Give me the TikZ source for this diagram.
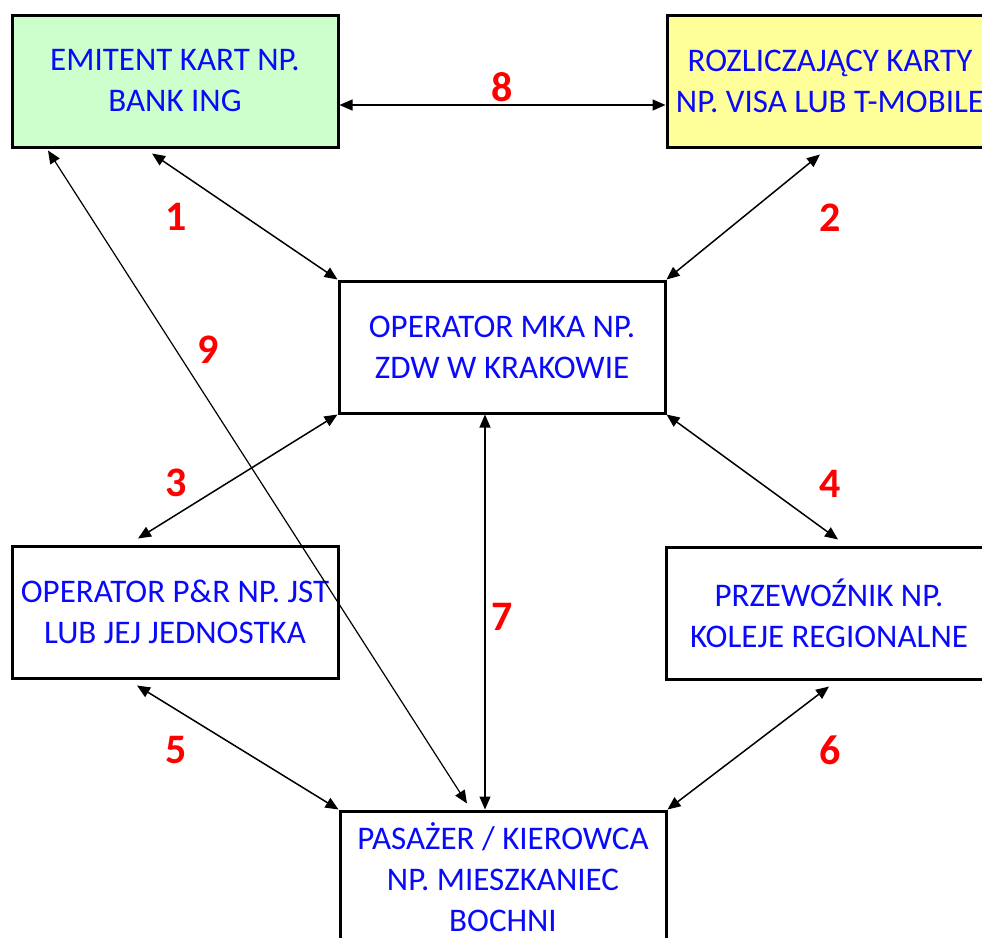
\documentclass[tikz,border=0pt]{standalone}
\usepackage{fontspec}
\setmainfont{Carlito}
\usepackage{xcolor}
\usepackage{tikz}
\usetikzlibrary{arrows.meta,calc,positioning}
\definecolor{emitcolor}{RGB}{204,255,204}
\definecolor{rozlcolor}{RGB}{255,255,153}
\definecolor{txtblue}{RGB}{10,10,250}

\begin{document}
\begin{tikzpicture}[x=1pt,y=-1pt,
  box/.style={draw,line width=3pt,fill=#1,align=center,minimum width=326pt,minimum height=132pt,
    text=txtblue,font=\fontsize{33}{41}\selectfont},
  box/.default=white,
  num/.style={text=red,font=\fontsize{42}{42}\selectfont\bfseries},
  link/.style={<->,line width=1.5pt},
  >={Triangle[length=13pt,width=11pt]}]
  \useasboundingbox (0,0) rectangle (982,937);
  \clip (0,0) rectangle (982,937);
  % boxes
  \node[box=emitcolor] (emit) at (175,81) {EMITENT KART NP.\\BANK ING};
  \node[box=rozlcolor] (rozl) at (830,81) {ROZLICZAJĄCY KARTY\\NP. VISA LUB T-MOBILE};
  \node[box] (mka) at (502,347) {OPERATOR MKA NP.\\ZDW W KRAKOWIE};
  \node[box] (pr) at (175,612) {OPERATOR P\&R NP. JST\\LUB JEJ JEDNOSTKA};
  \node[box] (prz) at (829,613) {PRZEWOŹNIK NP.\\KOLEJE REGIONALNE};
  \node[box] (pas) at (503,877) {PASAŻER / KIEROWCA\\NP. MIESZKANIEC\\BOCHNI};
  % numbers
  \node[num] (n8) at (502,87) {8};
  \node[num] (n1) at (176,217) {1};
  \node[num] (n2) at (830,218) {2};
  \node[num] (n9) at (208,350) {9};
  \node[num] (n3) at (176,483) {3};
  \node[num] (n4) at (830,484) {4};
  \node[num] (n7) at (502,617) {7};
  \node[num] (n5) at (176,750) {5};
  \node[num] (n6) at (830,750) {6};
  % links
  \draw[link] ([yshift=-24pt]emit.east) -- ([yshift=-24pt]rozl.west);
  \draw[link] ([xshift=-23pt,yshift=-5pt]emit.south) -- (mka.north west);
  \draw[link] ([xshift=-10pt,yshift=-6pt]rozl.south) -- (mka.north east);
  \draw[link] (mka.south west) -- ([xshift=-37pt,yshift=6pt]pr.north);
  \draw[link] (mka.south east) -- ([xshift=9pt,yshift=6pt]prz.north);
  \draw[link] ([xshift=-38pt,yshift=-6pt]pr.south) -- (pas.north west);
  \draw[link] ([xshift=0pt,yshift=-6pt]prz.south) -- (pas.north east);
  \draw[link,line width=1.2pt] ([xshift=-17pt]mka.south) -- ([xshift=-18pt]pas.north);
  \draw[link,line width=1.2pt] ([xshift=-127pt,yshift=-2pt]emit.south) -- ([xshift=-36pt,yshift=6pt]pas.north);
\end{tikzpicture}
\end{document}
